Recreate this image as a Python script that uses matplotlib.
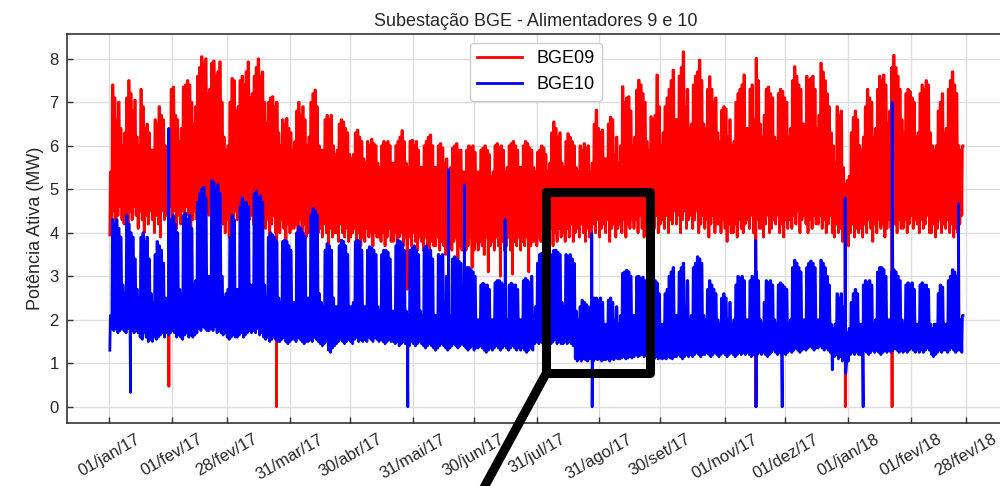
import datetime as dt

import matplotlib
matplotlib.use('Agg')
import matplotlib.pyplot as plt
import matplotlib.dates as mdates
from matplotlib.patches import Rectangle
import numpy as np

START = dt.datetime(2017, 1, 1)

# Daily peak / valley of each feeder (MW), one row per week (sunday first)
bge09_max = [
    [5.4, 7.4, 7.1, 6.6, 7.0, 6.4, 6.0],
    [6.3, 7.1, 7.5, 7.2, 6.8, 7.05, 6.2],
    [6.0, 7.3, 6.9, 6.4, 6.5, 6.3, 5.9],
    [5.9, 6.6, 6.5, 6.9, 6.7, 6.6, 6.0],
    [5.8, 6.3, 7.3, 7.35, 6.7, 6.6, 6.1],
    [6.4, 7.35, 7.4, 7.5, 7.4, 7.0, 6.5],
    [6.9, 7.6, 7.8, 8.05, 7.9, 8.0, 7.2],
    [7.3, 7.9, 7.95, 7.6, 7.7, 7.93, 7.0],
    [6.2, 5.9, 6.0, 7.0, 7.55, 7.5, 6.8],
    [6.9, 7.5, 7.6, 7.4, 7.7, 7.93, 7.1],
    [7.2, 7.6, 7.8, 8.0, 7.6, 7.7, 7.0],
    [6.5, 7.0, 7.1, 7.13, 6.9, 7.0, 6.3],
    [6.0, 6.6, 6.5, 6.63, 6.4, 6.3, 5.9],
    [6.1, 6.8, 7.0, 6.7, 6.9, 6.6, 6.0],
    [6.2, 7.0, 7.2, 7.28, 6.9, 6.0, 5.9],
    [5.9, 6.6, 6.7, 6.6, 6.7, 6.0, 5.8],
    [5.9, 6.5, 6.6, 6.55, 6.4, 6.3, 5.8],
    [5.7, 5.8, 6.3, 6.36, 6.2, 6.1, 5.7],
    [5.6, 6.1, 6.0, 6.15, 6.05, 6.0, 5.6],
    [5.5, 6.0, 6.1, 6.05, 6.1, 6.0, 5.6],
    [5.6, 6.0, 6.1, 6.2, 6.35, 6.1, 5.6],
    [5.5, 6.1, 6.13, 6.0, 6.1, 5.9, 5.5],
    [5.5, 6.0, 6.1, 6.2, 6.25, 6.0, 5.5],
    [5.5, 6.0, 6.05, 5.95, 5.6, 5.7, 5.4],
    [5.5, 5.95, 6.0, 6.05, 5.9, 5.9, 5.4],
    [5.4, 5.9, 6.0, 5.95, 6.0, 5.85, 5.4],
    [5.4, 5.9, 5.95, 6.0, 5.9, 5.8, 5.3],
    [5.4, 6.0, 6.05, 5.95, 6.0, 5.9, 5.4],
    [5.5, 6.0, 6.05, 6.1, 6.0, 5.9, 5.5],
    [5.5, 6.0, 6.1, 6.05, 5.95, 5.9, 5.5],
    [5.4, 5.85, 5.9, 6.0, 5.95, 5.8, 5.4],
    [5.6, 6.3, 6.55, 6.4, 6.2, 6.3, 5.6],
    [5.5, 6.1, 6.28, 6.2, 6.1, 6.0, 5.5],
    [5.4, 6.0, 5.9, 6.05, 5.95, 6.0, 5.4],
    [5.6, 6.5, 6.82, 6.4, 6.3, 6.36, 5.7],
    [5.7, 6.5, 6.66, 6.6, 5.8, 6.2, 5.6],
    [6.0, 7.36, 7.0, 7.1, 7.13, 6.8, 6.0],
    [6.2, 7.28, 7.51, 7.4, 7.2, 7.0, 6.1],
    [5.9, 6.67, 6.6, 6.7, 7.63, 6.9, 6.0],
    [6.3, 6.9, 7.1, 7.3, 7.5, 7.74, 6.6],
    [6.6, 7.6, 7.8, 8.16, 6.9, 7.3, 6.4],
    [6.5, 7.4, 7.6, 7.7, 7.97, 7.5, 6.5],
    [6.4, 7.3, 7.59, 7.3, 7.0, 7.1, 6.3],
    [6.1, 6.82, 6.9, 6.85, 6.2, 6.6, 6.0],
    [6.1, 7.0, 7.2, 7.3, 7.4, 7.63, 6.4],
    [6.4, 7.3, 7.4, 6.6, 8.01, 7.5, 6.5],
    [6.2, 6.7, 7.3, 7.35, 7.2, 7.1, 6.2],
    [6.1, 7.2, 7.3, 7.25, 7.1, 7.0, 6.2],
    [6.4, 7.5, 7.82, 7.6, 7.4, 7.3, 6.5],
    [6.5, 7.6, 7.5, 7.55, 7.6, 7.3, 6.4],
    [6.7, 7.9, 7.7, 7.5, 7.2, 6.9, 6.3],
    [6.0, 5.6, 6.9, 6.7, 6.8, 5.5, 5.1],
    [5.2, 5.3, 6.3, 6.65, 6.8, 6.6, 6.0],
    [5.9, 6.2, 6.9, 7.3, 7.1, 7.0, 6.2],
    [6.4, 7.3, 7.6, 7.5, 7.63, 7.4, 6.5],
    [6.8, 7.8, 8.08, 7.8, 7.6, 7.3, 6.6],
    [6.3, 7.2, 7.3, 7.25, 7.1, 7.0, 6.2],
    [6.3, 7.2, 7.4, 7.3, 7.5, 7.4, 6.3],
    [6.0, 5.9, 6.0, 6.8, 7.0, 7.2, 6.3],
    [6.4, 7.3, 7.5, 7.7, 7.4, 7.2, 6.0],
    [5.9, 6.0],
]

bge09_min = [
    [3.95, 4.3, 4.5, 4.2, 4.4, 4.6, 4.3],
    [4.2, 4.4, 4.1, 4.5, 4.3, 4.6, 4.4],
    [4.1, 4.5, 4.3, 4.0, 4.4, 4.2, 4.5],
    [4.3, 4.0, 4.4, 4.2, 3.9, 4.5, 4.3],
    [4.4, 4.2, 4.6, 4.3, 4.5, 4.1, 4.4],
    [4.2, 4.5, 4.3, 4.6, 4.4, 4.0, 4.3],
    [4.5, 4.3, 4.7, 4.4, 4.6, 4.2, 4.5],
    [4.4, 4.6, 4.2, 4.5, 4.3, 4.7, 4.4],
    [4.2, 4.0, 4.3, 3.9, 4.4, 4.2, 4.5],
    [4.3, 4.5, 4.2, 4.6, 4.4, 4.1, 4.3],
    [4.4, 4.2, 4.6, 4.3, 4.5, 4.0, 4.4],
    [4.1, 4.3, 3.9, 4.2, 4.4, 4.0, 4.2],
    [4.0, 4.3, 4.1, 3.8, 4.2, 4.0, 4.1],
    [4.1, 4.2, 3.9, 4.3, 4.0, 4.2, 3.9],
    [4.0, 4.3, 4.1, 4.2, 3.8, 4.0, 4.1],
    [3.9, 4.2, 4.0, 3.7, 4.1, 3.9, 4.0],
    [4.0, 3.8, 4.2, 4.0, 3.9, 4.1, 3.8],
    [3.9, 4.0, 4.1, 3.8, 4.0, 3.7, 3.9],
    [3.8, 4.1, 3.9, 4.0, 3.7, 4.0, 3.9],
    [3.9, 3.8, 4.0, 3.7, 3.9, 4.1, 3.8],
    [3.8, 4.0, 3.6, 3.9, 4.0, 3.7, 3.9],
    [2.7, 3.9, 3.7, 4.0, 3.8, 3.6, 3.9],
    [3.8, 3.6, 3.9, 3.7, 3.5, 3.8, 3.7],
    [3.7, 3.9, 3.6, 3.8, 3.7, 3.5, 3.8],
    [3.7, 3.6, 3.8, 3.9, 3.4, 3.7, 3.6],
    [3.8, 3.6, 3.7, 3.9, 3.2, 3.6, 3.8],
    [3.6, 3.8, 3.7, 3.5, 3.9, 3.1, 3.7],
    [3.8, 3.6, 3.9, 3.7, 3.0, 3.8, 3.6],
    [3.7, 3.9, 3.6, 3.05, 3.8, 3.7, 3.9],
    [3.6, 3.8, 3.7, 3.9, 3.1, 3.7, 3.8],
    [3.8, 3.7, 3.9, 3.8, 4.0, 3.7, 3.9],
    [3.9, 4.1, 3.7, 4.0, 3.8, 4.1, 3.9],
    [4.0, 3.8, 4.1, 3.9, 4.2, 3.8, 4.0],
    [4.1, 3.9, 4.2, 4.0, 3.8, 4.1, 3.9],
    [3.9, 4.2, 4.0, 4.3, 3.9, 4.1, 4.2],
    [4.0, 4.3, 3.8, 4.1, 4.2, 3.9, 4.1],
    [4.2, 4.0, 4.3, 3.9, 4.2, 4.1, 4.3],
    [4.1, 4.3, 4.0, 4.4, 4.1, 3.9, 4.2],
    [4.2, 3.9, 4.3, 4.1, 4.4, 4.0, 4.2],
    [4.3, 4.1, 4.4, 4.0, 4.3, 4.2, 4.5],
    [4.2, 4.4, 4.0, 4.3, 4.5, 4.1, 4.3],
    [4.4, 4.1, 4.3, 4.5, 4.0, 4.2, 4.4],
    [4.1, 4.3, 3.9, 4.2, 4.4, 4.0, 4.2],
    [4.2, 4.0, 4.3, 4.1, 3.8, 4.2, 4.0],
    [4.0, 4.2, 3.9, 4.3, 4.1, 4.0, 4.2],
    [4.3, 4.1, 4.4, 4.0, 4.2, 4.3, 4.1],
    [4.1, 3.9, 4.2, 4.4, 4.0, 4.1, 4.3],
    [4.2, 4.4, 4.0, 4.2, 3.9, 4.3, 4.1],
    [4.3, 4.1, 4.4, 4.2, 4.5, 4.0, 4.3],
    [4.4, 4.2, 4.0, 4.3, 4.1, 4.4, 4.2],
    [4.2, 4.4, 4.1, 4.3, 4.0, 4.2, 4.4],
    [4.0, 3.9, 4.2, 4.0, 4.1, 3.8, 3.9],
    [3.8, 3.7, 4.0, 4.2, 3.9, 4.1, 4.0],
    [4.1, 3.9, 4.2, 4.0, 4.3, 4.1, 3.8],
    [4.2, 4.0, 4.3, 4.1, 4.2, 3.9, 4.1],
    [4.3, 4.1, 4.4, 4.2, 4.0, 4.3, 4.1],
    [4.1, 4.3, 4.0, 4.2, 4.4, 4.1, 4.3],
    [4.2, 4.0, 4.3, 4.1, 4.2, 4.4, 4.0],
    [4.0, 4.2, 3.9, 4.1, 4.3, 4.0, 4.2],
    [4.1, 4.3, 4.0, 4.2, 3.9, 4.1, 4.0],
    [4.2, 4.4],
]

bge10_max = [
    [2.1, 4.3, 4.2, 4.3, 4.1, 3.9, 2.8],
    [2.6, 4.4, 4.2, 4.0, 3.9, 3.4, 2.7],
    [2.5, 3.9, 4.0, 3.8, 3.9, 3.4, 2.6],
    [2.4, 3.5, 3.8, 3.7, 3.6, 3.3, 2.5],
    [2.5, 3.6, 4.3, 4.4, 4.2, 4.0, 2.7],
    [2.6, 4.4, 4.45, 4.3, 4.4, 4.1, 2.8],
    [2.9, 4.7, 4.9, 5.0, 5.05, 4.8, 3.0],
    [3.0, 5.2, 5.15, 5.0, 5.1, 4.9, 3.0],
    [2.5, 2.6, 2.7, 3.9, 4.4, 4.3, 2.7],
    [2.7, 4.6, 4.8, 4.7, 4.7, 4.6, 2.8],
    [2.8, 4.9, 4.95, 4.8, 4.85, 4.7, 2.8],
    [2.5, 3.9, 4.0, 3.95, 3.9, 3.8, 2.5],
    [2.4, 3.8, 3.83, 3.8, 3.7, 3.6, 2.4],
    [2.4, 4.0, 4.14, 4.1, 4.0, 3.9, 2.5],
    [2.5, 4.4, 4.56, 4.5, 4.4, 2.6, 2.4],
    [2.3, 3.6, 3.75, 3.7, 3.6, 2.5, 2.3],
    [2.3, 3.7, 3.83, 3.8, 3.7, 3.5, 2.3],
    [2.3, 2.4, 3.8, 3.83, 3.8, 3.6, 2.3],
    [2.3, 3.6, 3.68, 3.65, 3.6, 3.5, 2.3],
    [2.2, 3.5, 3.6, 3.6, 3.55, 3.4, 2.2],
    [2.2, 3.7, 3.83, 3.8, 3.75, 3.6, 2.2],
    [2.1, 3.6, 3.65, 3.7, 3.6, 3.5, 2.2],
    [2.1, 3.65, 3.7, 3.6, 3.6, 3.4, 2.1],
    [2.1, 3.5, 3.45, 3.5, 2.4, 3.0, 2.1],
    [2.1, 3.4, 3.45, 3.4, 3.35, 3.3, 2.1],
    [2.0, 3.2, 3.2, 3.15, 3.1, 3.0, 2.0],
    [2.0, 2.8, 2.84, 2.8, 2.8, 2.7, 2.0],
    [2.0, 2.85, 2.9, 2.9, 2.85, 2.8, 2.0],
    [2.0, 2.8, 2.84, 2.8, 2.8, 2.7, 2.0],
    [2.0, 2.9, 2.95, 2.9, 2.85, 3.0, 2.1],
    [2.3, 3.3, 3.5, 3.53, 3.5, 3.4, 2.4],
    [2.4, 3.5, 3.6, 3.6, 3.55, 3.5, 2.4],
    [2.3, 3.5, 3.45, 3.5, 3.4, 3.3, 2.2],
    [2.0, 2.3, 2.45, 2.4, 2.35, 2.3, 1.9],
    [1.9, 2.5, 2.5, 2.45, 2.5, 2.4, 1.9],
    [1.9, 2.45, 2.5, 2.4, 2.0, 2.3, 1.9],
    [2.1, 3.07, 3.1, 3.14, 3.1, 3.0, 2.1],
    [2.1, 2.99, 3.0, 2.95, 2.98, 2.9, 2.1],
    [2.0, 2.9, 3.0, 2.9, 2.85, 2.6, 1.9],
    [1.9, 2.6, 2.7, 3.0, 3.1, 3.2, 2.1],
    [2.1, 3.1, 3.2, 3.3, 2.3, 2.9, 2.0],
    [2.1, 3.2, 3.3, 3.45, 3.4, 3.3, 2.1],
    [2.0, 2.7, 2.9, 2.8, 2.7, 2.6, 2.0],
    [1.9, 2.5, 2.6, 2.5, 2.0, 2.4, 1.9],
    [2.0, 2.8, 3.0, 2.95, 3.0, 2.9, 2.0],
    [2.0, 2.9, 3.0, 2.2, 3.1, 2.9, 2.0],
    [1.9, 2.4, 2.9, 2.85, 2.9, 2.8, 2.0],
    [1.9, 2.8, 2.85, 2.8, 2.75, 2.7, 1.9],
    [2.0, 3.2, 3.37, 3.3, 3.2, 3.1, 2.0],
    [2.0, 3.2, 3.3, 3.35, 3.3, 3.2, 2.0],
    [2.0, 3.37, 3.3, 3.2, 3.0, 2.8, 1.9],
    [1.8, 1.9, 2.6, 2.5, 2.6, 2.3, 1.8],
    [1.7, 1.8, 2.4, 2.6, 2.7, 2.6, 1.9],
    [1.9, 2.8, 2.9, 2.85, 2.9, 2.8, 1.9],
    [2.0, 3.1, 3.2, 3.2, 3.15, 3.0, 2.0],
    [2.0, 3.1, 3.15, 3.1, 3.0, 2.9, 2.0],
    [1.9, 2.8, 2.85, 2.8, 2.85, 2.7, 1.9],
    [1.9, 2.8, 2.85, 2.8, 2.8, 2.7, 1.9],
    [1.8, 1.9, 1.9, 2.6, 2.8, 2.75, 1.9],
    [1.9, 2.9, 3.0, 3.15, 3.1, 3.0, 2.0],
    [2.0, 2.1],
]

bge10_min = [
    [1.3, 1.8, 1.75, 1.8, 1.7, 1.75, 1.8],
    [1.75, 1.7, 1.8, 1.65, 1.75, 1.7, 1.75],
    [1.7, 1.6, 1.55, 1.7, 1.6, 1.5, 1.55],
    [1.5, 1.6, 1.55, 1.6, 1.65, 1.7, 1.6],
    [1.7, 1.65, 1.7, 1.75, 1.7, 1.6, 1.65],
    [1.6, 1.55, 1.65, 1.7, 1.6, 1.65, 1.6],
    [1.65, 1.7, 1.8, 1.75, 1.85, 1.8, 1.75],
    [1.75, 1.8, 1.75, 1.85, 1.7, 1.75, 1.7],
    [1.65, 1.7, 1.6, 1.55, 1.6, 1.65, 1.6],
    [1.6, 1.65, 1.7, 1.6, 1.65, 1.7, 1.75],
    [1.7, 1.75, 1.7, 1.8, 1.65, 1.7, 1.6],
    [1.55, 1.6, 1.5, 1.55, 1.6, 1.55, 1.5],
    [1.5, 1.55, 1.6, 1.5, 1.45, 1.5, 1.55],
    [1.55, 1.5, 1.6, 1.55, 1.5, 1.45, 1.5],
    [1.5, 1.55, 1.5, 1.6, 1.55, 1.5, 1.45],
    [1.4, 1.45, 1.5, 1.3, 1.25, 1.35, 1.4],
    [1.45, 1.5, 1.55, 1.5, 1.45, 1.5, 1.55],
    [1.5, 1.45, 1.55, 1.6, 1.5, 1.55, 1.5],
    [1.55, 1.5, 1.6, 1.55, 1.5, 1.6, 1.55],
    [1.5, 1.55, 1.5, 1.45, 1.5, 1.55, 1.5],
    [1.5, 1.45, 1.5, 1.4, 1.45, 1.5, 1.45],
    [1.45, 1.4, 1.5, 1.45, 1.4, 1.45, 1.5],
    [1.45, 1.4, 1.35, 1.4, 1.45, 1.4, 1.35],
    [1.3, 1.35, 1.4, 1.45, 1.4, 1.35, 1.3],
    [1.35, 1.4, 1.45, 1.4, 1.35, 1.4, 1.45],
    [1.4, 1.35, 1.3, 1.35, 1.4, 1.3, 1.35],
    [1.35, 1.4, 1.35, 1.3, 1.25, 1.3, 1.35],
    [1.3, 1.35, 1.4, 1.35, 1.3, 1.35, 1.4],
    [1.35, 1.3, 1.35, 1.4, 1.35, 1.3, 1.35],
    [1.3, 1.35, 1.3, 1.25, 1.3, 1.35, 1.3],
    [1.45, 1.5, 1.45, 1.5, 1.45, 1.5, 1.45],
    [1.5, 1.45, 1.5, 1.55, 1.45, 1.5, 1.45],
    [1.45, 1.5, 1.45, 1.5, 1.45, 1.4, 1.1],
    [1.05, 1.1, 1.05, 1.1, 1.08, 1.05, 1.1],
    [1.1, 1.05, 1.1, 1.08, 1.1, 1.05, 1.08],
    [1.08, 1.1, 1.05, 1.1, 1.08, 1.12, 1.1],
    [1.1, 1.12, 1.15, 1.1, 1.12, 1.15, 1.12],
    [1.15, 1.2, 1.15, 1.18, 1.2, 1.15, 1.2],
    [1.2, 1.15, 1.2, 1.1, 1.15, 1.1, 1.12],
    [1.1, 1.12, 1.1, 1.15, 1.12, 1.1, 1.15],
    [1.15, 1.2, 1.15, 1.1, 1.15, 1.2, 1.15],
    [1.2, 1.15, 1.2, 1.25, 1.2, 1.15, 1.2],
    [1.2, 1.25, 1.2, 1.15, 1.2, 1.25, 1.2],
    [1.15, 1.2, 1.25, 1.2, 1.15, 1.2, 1.25],
    [1.2, 1.15, 1.2, 1.25, 1.2, 1.25, 1.2],
    [1.25, 1.2, 1.15, 1.2, 1.25, 1.2, 1.25],
    [1.2, 1.25, 1.2, 1.15, 1.2, 1.25, 1.3],
    [1.25, 1.2, 1.25, 1.3, 1.25, 1.2, 1.25],
    [1.3, 1.25, 1.3, 1.35, 1.3, 1.25, 1.3],
    [1.35, 1.3, 1.35, 1.4, 1.35, 1.3, 1.35],
    [1.35, 1.4, 1.35, 1.3, 1.35, 1.3, 1.25],
    [0.85, 1.15, 1.2, 1.1, 1.15, 1.05, 1.1],
    [1.0, 1.05, 1.2, 1.25, 1.2, 1.25, 1.2],
    [1.2, 1.25, 1.3, 1.25, 1.2, 1.25, 1.3],
    [1.25, 1.3, 1.25, 1.2, 1.25, 1.3, 1.25],
    [1.3, 1.25, 1.3, 1.35, 1.3, 1.25, 1.3],
    [1.25, 1.3, 1.25, 1.3, 1.35, 1.3, 1.25],
    [1.3, 1.25, 1.3, 1.25, 1.3, 1.35, 1.3],
    [1.2, 1.15, 1.2, 1.25, 1.3, 1.25, 1.3],
    [1.3, 1.25, 1.3, 1.35, 1.3, 1.25, 1.3],
    [1.3, 1.25],
]

# Outages and load transfers (days after START, MW)
bge09_event_days = [29.35, 82.5, 319.4, 363.6, 386.7]
bge09_event_vals = [0.47, 0.0, 0.0, 0.0, 0.0]
bge10_event_days = [10.4, 29.3, 147.4, 167.5, 175.4, 195.5, 238.3, 238.5,
                    319.3, 319.5, 332.4, 363.5, 363.8, 372.4, 386.75, 419.5]
bge10_event_vals = [0.33, 6.4, 0.0, 5.45, 5.1, 4.3, 3.98, 0.0,
                    3.83, 0.0, 0.0, 4.8, 0.77, 0.0, 7.0, 4.67]

tick_dates = ['2017-01-01', '2017-02-01', '2017-02-28', '2017-03-31',
              '2017-04-30', '2017-05-31', '2017-06-30', '2017-07-31',
              '2017-08-31', '2017-09-30', '2017-11-01', '2017-12-01',
              '2018-01-01', '2018-02-01', '2018-02-28']
tick_labels = ['01/jan/17', '01/fev/17', '28/fev/17', '31/mar/17',
               '30/abr/17', '31/mai/17', '30/jun/17', '31/jul/17',
               '31/ago/17', '30/set/17', '01/nov/17', '01/dez/17',
               '01/jan/18', '01/fev/18', '28/fev/18']

# highlighted window (days after START, MW)
zoom_days = (215.9, 267.0)
zoom_mw = (0.78, 4.94)


def to_date(day):
    return START + dt.timedelta(days=float(day))


def build(daily_min, daily_max, ev_days, ev_vals):
    lo = np.concatenate(daily_min)
    hi = np.concatenate(daily_max)
    days = np.arange(len(hi))
    # valley before dawn, load held at the peak through the working hours
    t = np.concatenate([days + 0.17, days + 0.45, days + 0.75, ev_days])
    v = np.concatenate([lo, hi, hi, ev_vals])
    order = np.argsort(t, kind='stable')
    return [to_date(d) for d in t[order]], v[order]


d09, v09 = build(bge09_min, bge09_max, bge09_event_days, bge09_event_vals)
d10, v10 = build(bge10_min, bge10_max, bge10_event_days, bge10_event_vals)

plt.rcParams['font.family'] = ['Liberation Sans', 'DejaVu Sans']

fig = plt.figure(figsize=(10, 4.86), dpi=100)
ax = fig.add_axes([0.067, 0.129, 0.938, 0.801])

ax.plot(d09, v09, color='#ff0000', lw=2.0, label='BGE09')
ax.plot(d10, v10, color='#0000ff', lw=2.0, label='BGE10')

ax.set_xlim(to_date(-21), to_date(442.5))
ax.set_ylim(-0.38, 8.57)

ax.set_xticks(mdates.date2num([dt.datetime.fromisoformat(s) for s in tick_dates]))
ax.set_xticklabels(tick_labels, rotation=30)
ax.set_yticks(range(0, 9))

ax.grid(True, color='#dddddd', lw=1.0)
ax.set_axisbelow(True)
for side in ax.spines.values():
    side.set_color('#333333')
    side.set_linewidth(1.2)
ax.tick_params(direction='in', length=4, width=1, colors='#333333',
               labelsize=12, labelcolor='#262626', pad=6)

ax.set_title('Subestação BGE - Alimentadores 9 e 10', fontsize=13, color='#262626')
ax.set_ylabel('Potência Ativa (MW)', fontsize=13, color='#262626')

ax.legend(loc='upper center', fontsize=13, handlelength=2.5,
          edgecolor='#cccccc', framealpha=1)

# highlighted window and its leader line
x0, x1 = mdates.date2num(to_date(zoom_days[0])), mdates.date2num(to_date(zoom_days[1]))
box = Rectangle((x0, zoom_mw[0]), x1 - x0, zoom_mw[1] - zoom_mw[0],
                fill=False, edgecolor='black', lw=6.5, joinstyle='round',
                zorder=10)
ax.add_patch(box)
ax.annotate('', xy=(x0, zoom_mw[0]), xycoords='data',
            xytext=(0.469, -0.06), textcoords='figure fraction',
            arrowprops=dict(arrowstyle='-', lw=6.5, color='black',
                            shrinkA=0, shrinkB=0))

fig.savefig('out.png', dpi=100)
